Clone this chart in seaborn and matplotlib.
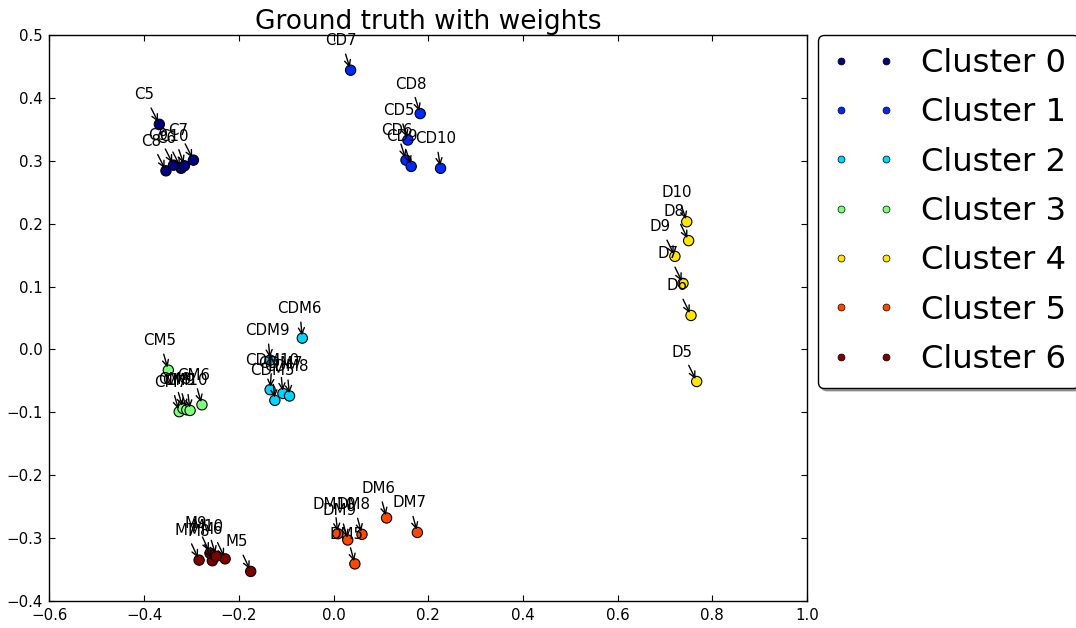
import matplotlib
matplotlib.use("Agg")
import matplotlib.pyplot as plt
from matplotlib.lines import Line2D
import seaborn as sns
import pandas as pd

# Point names, 2-D coordinates and cluster membership
point_labels = [
    "C5", "C6", "C7", "C8", "C9", "C10",
    "CD5", "CD6", "CD7", "CD8", "CD9", "CD10",
    "CDM5", "CDM6", "CDM7", "CDM8", "CDM9", "CDM10",
    "CM5", "CM6", "CM7", "CM8", "CM9", "CM10",
    "D5", "D6", "D7", "D8", "D9", "D10",
    "DM5", "DM6", "DM7", "DM8", "DM9", "DM10",
    "M5", "M6", "M7", "M8", "M9", "M10",
]
x_vals = [
    -0.368, -0.322, -0.296, -0.354, -0.338, -0.315,
    0.157, 0.153, 0.036, 0.183, 0.164, 0.226,
    -0.124, -0.066, -0.107, -0.093, -0.134, -0.134,
    -0.349, -0.278, -0.326, -0.318, -0.310, -0.303,
    0.767, 0.755, 0.738, 0.750, 0.721, 0.746,
    0.045, 0.112, 0.177, 0.060, 0.030, 0.009,
    -0.175, -0.229, -0.284, -0.256, -0.261, -0.248,
]
y_vals = [
    0.358, 0.288, 0.301, 0.284, 0.293, 0.292,
    0.333, 0.301, 0.444, 0.375, 0.291, 0.288,
    -0.081, 0.018, -0.070, -0.074, -0.017, -0.064,
    -0.033, -0.088, -0.099, -0.094, -0.096, -0.097,
    -0.051, 0.054, 0.105, 0.173, 0.148, 0.203,
    -0.341, -0.268, -0.291, -0.294, -0.303, -0.293,
    -0.353, -0.333, -0.335, -0.336, -0.324, -0.329,
]
cluster_ids = (
    [0] * 6 + [1] * 6 + [2] * 6 + [3] * 6 + [4] * 6 + [5] * 6 + [6] * 6
)
cluster_names = [f"Cluster {i}" for i in range(7)]

x_ticks = [-0.6, -0.4, -0.2, 0.0, 0.2, 0.4, 0.6, 0.8, 1.0]
y_ticks = [-0.4, -0.3, -0.2, -0.1, 0.0, 0.1, 0.2, 0.3, 0.4, 0.5]

df = pd.DataFrame({
    "name": point_labels,
    "x": x_vals,
    "y": y_vals,
    "cluster": [cluster_names[c] for c in cluster_ids],
})

sns.set_theme(style="ticks")
plt.rcParams["font.family"] = ["DejaVu Sans"]
plt.rcParams["axes.unicode_minus"] = True
plt.rcParams["text.color"] = "black"
plt.rcParams["axes.labelcolor"] = "black"

jet = matplotlib.colormaps["jet"]
palette = {name: jet(i / 6) for i, name in enumerate(cluster_names)}

fig = plt.figure(figsize=(10.76, 6.28), dpi=100)
ax = fig.add_axes([0.046, 0.043, 0.704, 0.9013])

sns.scatterplot(
    data=df, x="x", y="y", hue="cluster", palette=palette,
    hue_order=cluster_names, s=55, edgecolor="black", linewidth=0.8,
    legend=False, ax=ax, zorder=3,
)

for name, px, py in zip(df["name"], df["x"], df["y"]):
    ax.annotate(
        name, xy=(px, py), xytext=(-18, 18), textcoords="offset points",
        fontsize=10.8, color="black",
        arrowprops=dict(arrowstyle="->", color="black", lw=1.0),
    )

ax.set_xlim(-0.6, 1.0)
ax.set_ylim(-0.4, 0.5)
ax.set_xticks(x_ticks)
ax.set_yticks(y_ticks)
ax.set_xlabel("")
ax.set_ylabel("")
ax.tick_params(direction="in", top=True, right=True, length=4, width=0.8,
               labelsize=10.8, pad=5, colors="black")
for sp in ax.spines.values():
    sp.set_color("black")
    sp.set_linewidth(1.0)

ax.set_title("Ground truth with weights", fontsize=19, pad=4, color="black")

handles = [
    Line2D([0], [0], marker="o", linestyle="none", markersize=5,
           markerfacecolor=palette[n], markeredgecolor="black",
           markeredgewidth=0.5)
    for n in cluster_names
]
leg = ax.legend(
    handles, cluster_names, loc="upper left",
    bbox_to_anchor=(818 / 1076, 1 - 35 / 628), bbox_transform=fig.transFigure,
    borderaxespad=0, numpoints=2, fontsize=23.2, shadow=True, fancybox=True,
    framealpha=1, edgecolor="black", borderpad=0.4, labelspacing=0.57,
    handlelength=2, handletextpad=0.8, labelcolor="black",
)
leg.get_frame().set_linewidth(1.0)

fig.savefig("out.png", dpi=100)
